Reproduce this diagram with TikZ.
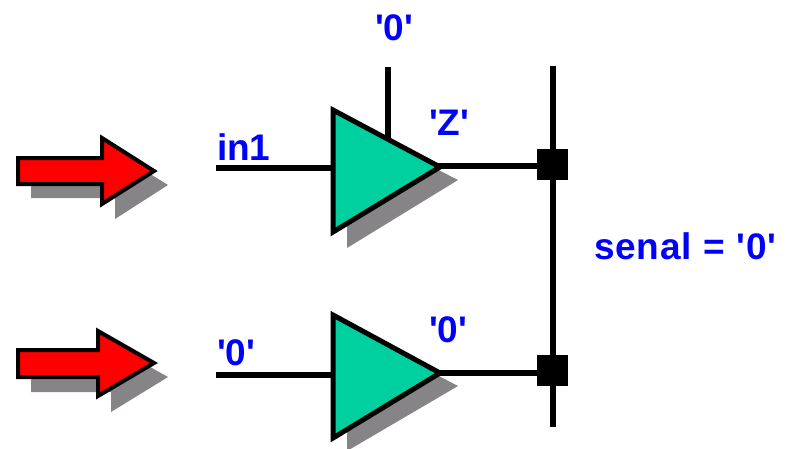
\documentclass[tikz,border=0pt]{standalone}
\usepackage{fontspec}
\newfontfamily\labelfont{Liberation Sans}
\usepackage{tkz-graph}
\usetikzlibrary{arrows}
\usetikzlibrary{shapes}
\definecolor{gateGreen}{HTML}{00D0A0}
\definecolor{shadowGray}{HTML}{868486}

\begin{document}
\begin{tikzpicture}[x = 1pt, y = -1pt]
	\tikzstyle{VertexStyle} = []
	\tikzstyle{EdgeStyle} = []
	\tikzstyle{pointStyle}=[shape = coordinate]
	\tikzstyle{labelStyle}=[anchor = base west, inner sep = 0pt, text = blue, font = \labelfont\fontsize{37}{37}\selectfont\bfseries]
	\tikzstyle{junctionStyle}=[shape = rectangle, minimum size = 31pt, inner sep = 0pt, fill = black]
	\tikzstyle{wireStyle}=[line width = 6pt, black]
	\tikzstyle{gateStyle}=[line width = 5pt, draw = black, fill = gateGreen, line join = miter]
	\tikzstyle{arrowStyle}=[line width = 4pt, draw = black, fill = red, line join = miter]
	\tikzstyle{shadowStyle}=[fill = shadowGray]
	\useasboundingbox (0, 0) rectangle (786, 448);
	% shadows
	\fill[shadowStyle] (31, 172) -- (115, 172) -- (115, 152) -- (168, 185) -- (115, 219) -- (115, 198) -- (31, 198) -- cycle;
	\fill[shadowStyle] (31, 366) -- (111, 366) -- (111, 345) -- (168, 377) -- (111, 412) -- (111, 392) -- (31, 392) -- cycle;
	\fill[shadowStyle] (347, 123) -- (458, 180) -- (347, 248) -- cycle;
	\fill[shadowStyle] (347, 328) -- (458, 386) -- (347, 451) -- cycle;
	% wire ends
	\Vertex[style = pointStyle, x = 216, y = 168, NoLabel]{in1a}
	\Vertex[style = pointStyle, x = 333, y = 168, NoLabel]{in1b}
	\Vertex[style = pointStyle, x = 216, y = 375, NoLabel]{in2a}
	\Vertex[style = pointStyle, x = 333, y = 375, NoLabel]{in2b}
	\Vertex[style = pointStyle, x = 388, y = 67, NoLabel]{ena}
	\Vertex[style = pointStyle, x = 388, y = 140, NoLabel]{enb}
	\Vertex[style = pointStyle, x = 438, y = 166, NoLabel]{out1}
	\Vertex[style = pointStyle, x = 438, y = 373, NoLabel]{out2}
	\Vertex[style = pointStyle, x = 553, y = 66, NoLabel]{busa}
	\Vertex[style = pointStyle, x = 553, y = 427, NoLabel]{busb}
	\Vertex[style = junctionStyle, x = 552.5, y = 164, NoLabel]{j1}
	\Vertex[style = junctionStyle, x = 552.5, y = 370.5, NoLabel]{j2}
	% wires
	\Edge[style = wireStyle](in1a)(in1b)
	\Edge[style = wireStyle](in2a)(in2b)
	\Edge[style = wireStyle](ena)(enb)
	\Edge[style = wireStyle](busa)(busb)
	\draw[wireStyle] (out1) -- (out1 -| j1.west);
	\draw[wireStyle] (out2) -- (out2 -| j2.west);
	% gates and arrows
	\draw[gateStyle] (333, 110) -- (440, 167) -- (333, 232) -- cycle;
	\draw[gateStyle] (333, 315) -- (440, 373) -- (333, 438) -- cycle;
	\draw[arrowStyle] (18, 158) -- (102, 158) -- (102, 138) -- (154, 171) -- (102, 204) -- (102, 184) -- (18, 184) -- cycle;
	\draw[arrowStyle] (18, 350) -- (98, 350) -- (98, 331) -- (154, 363) -- (98, 396) -- (98, 377) -- (18, 377) -- cycle;
	% labels
	\Vertex[style = labelStyle, x = 375, y = 40, L = {'0'}]{lenable}
	\Vertex[style = labelStyle, x = 429, y = 135, L = {'Z'}]{lz}
	\Vertex[style = labelStyle, x = 217, y = 160, L = {in1}]{lin}
	\Vertex[style = labelStyle, x = 217, y = 365, L = {'0'}]{lzero}
	\Vertex[style = labelStyle, x = 429, y = 342, L = {'0'}]{lout}
	\Vertex[style = labelStyle, x = 594, y = 259, L = {\addfontfeature{LetterSpace=2.5}senal = '0'}]{lsenal}
\end{tikzpicture}
\end{document}
